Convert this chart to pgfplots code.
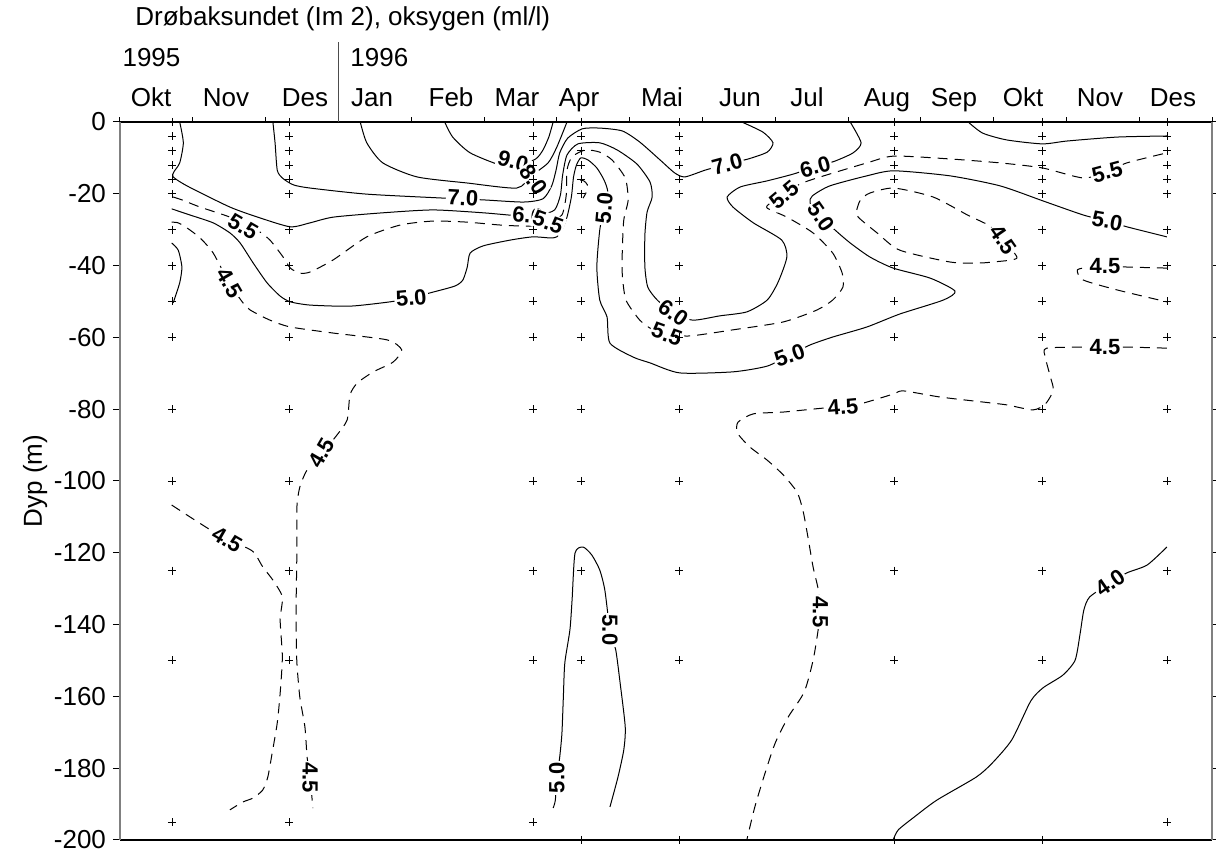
\documentclass[border=0pt]{standalone}
\usepackage{fontspec}
\setmainfont{Liberation Sans}
\usepackage{pgfplots}
\usepackage{pgfplotstable}
\pgfplotsset{compat=1.18}

\pgfplotstableread[row sep=\\]{
m d\\
0.714 0\\ 0.714 -4\\ 0.714 -8\\ 0.714 -12\\ 0.714 -16\\ 0.714 -20\\ 0.714 -30\\ 0.714 -40\\ 0.714 -50\\ 0.714 -60\\ 0.714 -80\\ 0.714 -100\\ 0.714 -125\\ 0.714 -150\\ 0.714 -195\\
2.321 0\\ 2.321 -4\\ 2.321 -8\\ 2.321 -12\\ 2.321 -16\\ 2.321 -20\\ 2.321 -30\\ 2.321 -40\\ 2.321 -50\\ 2.321 -60\\ 2.321 -80\\ 2.321 -100\\ 2.321 -125\\ 2.321 -150\\ 2.321 -195\\
5.673 0\\ 5.673 -4\\ 5.673 -8\\ 5.673 -12\\ 5.673 -16\\ 5.673 -20\\ 5.673 -30\\ 5.673 -40\\ 5.673 -50\\ 5.673 -60\\ 5.673 -80\\ 5.673 -100\\ 5.673 -125\\ 5.673 -150\\ 5.673 -195\\
6.332 0\\ 6.332 -4\\ 6.332 -8\\ 6.332 -12\\ 6.332 -16\\ 6.332 -20\\ 6.332 -30\\ 6.332 -40\\ 6.332 -50\\ 6.332 -60\\ 6.332 -80\\ 6.332 -100\\ 6.332 -125\\ 6.332 -150\\ 6.332 -200\\
7.679 0\\ 7.679 -4\\ 7.679 -8\\ 7.679 -12\\ 7.679 -16\\ 7.679 -20\\ 7.679 -30\\ 7.679 -40\\ 7.679 -50\\ 7.679 -60\\ 7.679 -80\\ 7.679 -100\\ 7.679 -125\\ 7.679 -150\\ 7.679 -200\\
10.632 0\\ 10.632 -4\\ 10.632 -8\\ 10.632 -12\\ 10.632 -16\\ 10.632 -20\\ 10.632 -30\\ 10.632 -40\\ 10.632 -50\\ 10.632 -60\\ 10.632 -80\\ 10.632 -100\\ 10.632 -125\\ 10.632 -150\\ 10.632 -200\\
12.665 0\\ 12.665 -4\\ 12.665 -8\\ 12.665 -12\\ 12.665 -16\\ 12.665 -20\\ 12.665 -30\\ 12.665 -40\\ 12.665 -50\\ 12.665 -60\\ 12.665 -80\\ 12.665 -100\\ 12.665 -125\\ 12.665 -150\\ 12.665 -200\\
14.382 0\\ 14.382 -4\\ 14.382 -8\\ 14.382 -12\\ 14.382 -16\\ 14.382 -20\\ 14.382 -30\\ 14.382 -40\\ 14.382 -50\\ 14.382 -60\\ 14.382 -80\\ 14.382 -100\\ 14.382 -125\\ 14.382 -150\\ 14.382 -195\\
}\stations

\tikzset{
  sol/.style={black, line width=0.5pt, smooth, tension=0.4, mark=none},
  das/.style={sol, dash pattern=on 5pt off 3.5pt},
  lab/.style={font=\fontsize{11}{12}\selectfont\bfseries, fill=white, inner sep=0.8pt},
  txt/.style={font=\fontsize{13}{15}\selectfont, inner sep=0pt},
  mon/.style={txt, anchor=base, yshift=7.6pt},
}

\begin{document}
\begin{tikzpicture}
\begin{axis}[
  width=546pt, height=359pt, scale only axis,
  xmin=0, xmax=15, ymin=-200, ymax=0,
  clip=false,
  separate axis lines,
  every outer x axis line/.append style={black, line width=0.7pt},
  every outer y axis line/.append style={gray, line width=1pt},
  xtick={0,1,...,15}, xticklabels={}, xtick pos=right,
  ytick={-200,-180,-160,-140,-120,-100,-80,-60,-40,-20,0},
  yticklabels={-200,-180,-160,-140,-120,-100,-80,-60,-40,-20,0},
  ytick pos=both, yticklabel pos=left,
  tick align=outside,
  major tick length=3.5pt,
  xtick style={/pgfplots/major tick length=2.3pt},
  every tick/.style={black, line width=0.5pt},
  tick label style={font=\fontsize{13}{15}\selectfont},
  ylabel={Dyp (m)},
  ylabel style={at={(axis description cs:-0.0778,0.5)}, anchor=center, font=\fontsize{13}{15}\selectfont},
]
% stations
\addplot[only marks, mark=+, mark size=2pt, mark options={line width=0.4pt}] table[x=m, y=d] {\stations};

% 9.0
\addplot[sol] coordinates {(4.46,0) (4.57,-4.2) (4.81,-8.6) (5.22,-12.0) (5.45,-12.3) (5.71,-10.3) (5.81,-7.8) (5.89,-4.2) (5.95,0)};
% 8.0
\addplot[sol] coordinates {(3.30,0) (3.39,-5.8) (3.61,-11.4) (4.08,-15.3) (4.77,-17.0) (5.45,-18.4) (5.65,-15.0) (5.88,-11.4) (6.00,-7.0) (6.14,0)};
% 7.0
\addplot[sol] coordinates {(2.10,0) (2.13,-5.8) (2.16,-13.4) (2.23,-15.6) (2.38,-17.5) (2.61,-18.4) (3.39,-20.1) (4.44,-21.2) (4.99,-21.7) (5.54,-22.3) (5.81,-21.4) (5.93,-17.8) (5.99,-13.4) (6.04,-8.6) (6.15,-4.5) (6.35,-1.9) (6.59,-1.7) (6.90,-2.5) (7.14,-5.6) (7.42,-10.6) (7.62,-14.2) (7.76,-15.3) (8.04,-13.4) (8.34,-11.7) (8.63,-10.3) (8.89,-8.4) (8.97,-5.8) (8.83,-2.8) (8.54,0)};
% 6.0
\addplot[sol] coordinates {(0.82,0) (0.87,-5.8) (0.82,-11.4) (0.74,-13.9) (0.73,-15.3) (0.92,-17.8) (1.51,-23.7) (1.92,-26.7) (2.34,-29.2) (2.61,-28.1) (2.93,-26.5) (3.61,-25.3) (4.30,-24.5) (4.99,-25.3) (5.52,-26.2) (5.77,-25.9) (5.97,-24.5) (6.05,-20.3) (6.08,-14.8) (6.14,-9.2) (6.29,-6.1) (6.59,-5.8) (6.83,-7.8) (7.10,-11.7) (7.28,-16.7) (7.31,-20.9) (7.24,-25.1) (7.21,-31.5) (7.21,-40.4) (7.25,-46.0) (7.38,-49.6) (7.60,-53.2) (7.87,-55.2) (8.24,-54.0) (8.61,-52.9) (8.89,-49.6) (9.04,-44.6) (9.16,-37.6) (9.09,-32.9) (8.70,-28.1) (8.42,-23.7) (8.34,-20.9) (8.52,-18.1) (8.89,-16.4) (9.25,-14.5) (9.55,-12.5) (9.82,-10.9) (10.07,-8.6) (10.18,-5.8) (10.03,0)};
% 5.5
\addplot[das] coordinates {(0.73,-20.9) (0.85,-21.7) (1.10,-23.7) (1.51,-26.5) (1.88,-30.1) (2.06,-32.9) (2.24,-37.6) (2.34,-40.7) (2.47,-42.1) (2.61,-41.8) (2.93,-38.4) (3.39,-32.0) (3.85,-28.7) (4.30,-27.6) (4.77,-27.9) (5.22,-28.7) (5.63,-29.0) (5.88,-27.9) (6.07,-25.9) (6.13,-20.3) (6.14,-13.4) (6.21,-9.7) (6.39,-7.8) (6.59,-8.4) (6.76,-10.6) (6.94,-15.6) (6.98,-21.7) (6.92,-27.3) (6.90,-35.7) (6.90,-42.6) (6.95,-49.6) (7.14,-55.2) (7.32,-57.9) (7.51,-59.1) (7.83,-59.6) (8.42,-57.9) (9.11,-55.7) (9.57,-52.4) (9.79,-49.6) (9.93,-46.0) (9.92,-42.1) (9.79,-36.5) (9.52,-30.9) (9.16,-26.5) (8.89,-24.0) (8.93,-22.6) (9.12,-20.3) (9.34,-17.3) (9.62,-15.3) (10.26,-11.4) (10.63,-9.5) (11.40,-10.3) (12.09,-11.4) (12.67,-12.8) (13.23,-15.6) (13.56,-13.9) (13.83,-11.4) (14.38,-8.6)};
% 5.0 long
\addplot[sol] coordinates {(0.71,-24.2) (0.96,-25.9) (1.28,-28.1) (1.51,-30.9) (1.65,-33.7) (1.83,-39.3) (2.02,-44.8) (2.20,-48.5) (2.34,-50.1) (2.61,-51.0) (3.16,-51.3) (3.71,-50.1) (4.00,-49.0) (4.26,-47.6) (4.60,-45.7) (4.71,-44.0) (4.77,-40.4) (4.81,-36.5) (4.99,-34.5) (5.36,-32.9) (5.67,-32.0) (5.91,-32.3) (6.00,-32.0) (6.07,-30.1) (6.14,-26.5) (6.20,-20.9) (6.23,-15.3) (6.27,-12.0) (6.33,-10.0) (6.43,-10.6) (6.55,-12.8) (6.65,-16.2) (6.70,-19.5) (6.65,-24.0) (6.59,-30.1) (6.55,-40.4) (6.59,-49.6) (6.69,-54.3) (6.73,-61.6) (7.05,-65.5) (7.28,-67.1) (7.69,-69.9) (8.42,-69.6) (8.89,-68.0) (9.20,-64.9) (9.48,-62.1) (9.79,-59.9) (10.26,-57.1) (10.71,-53.5) (11.31,-49.6) (11.47,-47.1) (11.13,-43.5) (10.62,-40.7) (10.30,-37.6) (10.03,-33.7) (9.85,-30.6) (9.63,-26.5) (9.48,-22.6) (9.51,-20.6) (9.75,-17.8) (10.26,-15.0) (10.63,-13.6) (11.40,-15.0) (12.09,-17.8) (12.68,-22.0) (13.23,-25.9) (13.56,-27.6) (13.83,-29.2) (14.38,-32.0)};
% small 5.5 squiggle at Apr
\addplot[das] coordinates {(6.32,-16.2) (6.37,-16.4) (6.42,-17.5) (6.40,-19.8) (6.36,-21.2)};
% 4.5 closed loop (Aug-Sep)
\addplot[das] coordinates {(10.12,-24.5) (10.17,-21.7) (10.30,-19.8) (10.63,-18.4) (11.17,-20.9) (11.64,-25.9) (11.95,-29.0) (12.13,-32.9) (12.32,-37.9) (11.99,-39.0) (11.77,-39.3) (11.40,-39.0) (10.71,-35.7) (10.40,-30.9) (10.14,-26.5) (10.12,-24.5)};
% 4.5 right <
\addplot[das] coordinates {(14.38,-40.7) (13.83,-40.4) (13.53,-40.1) (13.32,-40.4) (13.15,-41.2) (13.23,-44.0) (13.70,-46.8) (14.38,-50.1)};
% 4.5 long
\addplot[das] coordinates {(14.38,-63.0) (13.83,-62.7) (13.53,-62.7) (13.32,-62.7) (12.73,-63.0) (12.71,-65.5) (12.78,-71.0) (12.82,-74.7) (12.71,-78.6) (12.54,-80.2) (12.18,-78.8) (11.85,-78.0) (11.26,-76.6) (10.76,-74.9) (10.62,-75.8) (10.21,-78.3) (9.93,-79.4) (9.66,-79.7) (9.11,-80.8) (8.70,-81.3) (8.49,-83.6) (8.48,-86.6) (8.65,-90.5) (8.89,-94.2) (9.11,-98.3) (9.30,-103.1) (9.38,-108.1) (9.44,-114.5) (9.52,-123.9) (9.59,-130.1) (9.62,-136.5) (9.53,-149.0) (9.40,-158.7) (9.18,-165.7) (9.00,-173.0) (8.86,-181.4) (8.72,-190.8) (8.61,-200)};
% 4.0
\addplot[sol] coordinates {(10.62,-200) (10.69,-197.2) (10.91,-193.6) (11.22,-188.9) (11.76,-182.5) (11.98,-178.6) (12.25,-172.1) (12.51,-161.3) (12.68,-157.6) (12.95,-154.1) (13.12,-149.9) (13.19,-142.3) (13.24,-135.9) (13.32,-132.3) (13.60,-128.4) (13.83,-125.6) (14.11,-123.4) (14.38,-118.4)};
% 5.0 bottom n-shape
\addplot[sol] coordinates {(5.95,-191.1) (5.98,-188.9) (6.00,-182.7) (6.04,-176.9) (6.07,-170.4) (6.09,-160.2) (6.11,-150.7) (6.18,-141.5) (6.21,-133.1) (6.25,-120.1) (6.36,-118.4) (6.48,-120.6) (6.59,-124.8) (6.66,-130.4) (6.73,-141.5) (6.81,-147.1) (6.87,-156.3) (6.94,-168.5) (6.92,-174.9) (6.84,-182.5) (6.73,-190.8)};
% 4.5 left upper
\addplot[das] coordinates {(0.71,-27.9) (0.80,-28.1) (0.92,-29.5) (1.10,-32.3) (1.28,-36.5) (1.50,-44.8) (1.69,-50.4) (1.79,-52.4) (2.06,-55.2) (2.34,-57.1) (2.93,-58.8) (3.67,-60.7) (3.87,-63.5) (3.75,-66.9) (3.48,-69.6) (3.26,-72.7) (3.16,-76.0) (3.12,-83.0) (2.98,-87.2) (2.78,-92.2) (2.57,-96.9) (2.47,-101.7) (2.43,-107.2) (2.43,-119.2) (2.42,-133.1) (2.42,-142.3) (2.43,-150.7) (2.47,-160.2) (2.54,-168.5) (2.57,-176.9) (2.61,-182.7) (2.64,-188.9) (2.65,-191.1)};
% 4.5 left lower
\addplot[das] coordinates {(0.71,-106.7) (0.96,-110.0) (1.20,-113.1) (1.47,-116.4) (1.75,-118.7) (1.85,-120.1) (1.96,-123.9) (2.10,-127.6) (2.23,-132.3) (2.20,-138.7) (2.23,-149.0) (2.20,-159.1) (2.16,-167.4) (2.09,-175.8) (2.03,-182.5) (1.96,-186.1) (1.83,-188.3) (1.69,-189.4) (1.51,-191.6)};
% small solid bump at Okt
\addplot[sol] coordinates {(0.71,-33.7) (0.80,-35.7) (0.85,-40.4) (0.82,-44.8) (0.73,-50.4)};
% solid top right
\addplot[sol] coordinates {(11.65,0) (11.85,-3.1) (12.18,-5.0) (12.67,-6.1) (13.01,-5.3) (13.70,-4.2) (14.38,-3.9)};

% contour labels
\node[lab, rotate=-15] at (axis cs:5.40,-11.0) {9.0};
\node[lab, rotate=-55] at (axis cs:5.68,-16.0) {8.0};
\node[lab, rotate=-3] at (axis cs:4.71,-21.2) {7.0};
\node[lab, rotate=-5] at (axis cs:5.60,-26.0) {6.0};
\node[lab, rotate=-20] at (axis cs:5.88,-27.9) {5.5};
\node[lab, rotate=-30] at (axis cs:1.69,-29.2) {5.5};
\node[lab, rotate=5] at (axis cs:4.00,-49.0) {5.0};
\node[lab, rotate=-60] at (axis cs:1.50,-44.8) {4.5};
\node[lab, rotate=60] at (axis cs:2.77,-92.2) {4.5};
\node[lab, rotate=-30] at (axis cs:1.47,-116.4) {4.5};
\node[lab, rotate=-90] at (axis cs:2.61,-182.7) {4.5};
\node[lab, rotate=85] at (axis cs:6.65,-24.0) {5.0};
\node[lab, rotate=-35] at (axis cs:7.60,-53.2) {6.0};
\node[lab, rotate=-20] at (axis cs:7.51,-59.1) {5.5};
\node[lab, rotate=20] at (axis cs:9.20,-64.9) {5.0};
\node[lab, rotate=15] at (axis cs:8.34,-11.7) {7.0};
\node[lab, rotate=15] at (axis cs:9.55,-12.5) {6.0};
\node[lab, rotate=40] at (axis cs:9.12,-20.3) {5.5};
\node[lab, rotate=-55] at (axis cs:9.63,-26.5) {5.0};
\node[lab, rotate=-55] at (axis cs:12.13,-32.9) {4.5};
\node[lab, rotate=15] at (axis cs:13.56,-13.9) {5.5};
\node[lab, rotate=-10] at (axis cs:13.56,-27.6) {5.0};
\node[lab] at (axis cs:13.53,-40.1) {4.5};
\node[lab] at (axis cs:13.53,-62.7) {4.5};
\node[lab, rotate=5] at (axis cs:9.93,-79.4) {4.5};
\node[lab, rotate=-90] at (axis cs:9.62,-136.5) {4.5};
\node[lab, rotate=35] at (axis cs:13.60,-128.4) {4.0};
\node[lab, rotate=90] at (axis cs:6.00,-182.7) {5.0};
\node[lab, rotate=-90] at (axis cs:6.73,-141.5) {5.0};

% month labels
\node[mon] at (axis cs:0.426,0) {Okt};
\node[mon] at (axis cs:1.456,0) {Nov};
\node[mon] at (axis cs:2.541,0) {Des};
\node[mon] at (axis cs:3.462,0) {Jan};
\node[mon] at (axis cs:4.547,0) {Feb};
\node[mon] at (axis cs:5.453,0) {Mar};
\node[mon] at (axis cs:6.305,0) {Apr};
\node[mon] at (axis cs:7.445,0) {Mai};
\node[mon] at (axis cs:8.516,0) {Jun};
\node[mon] at (axis cs:9.437,0) {Jul};
\node[mon] at (axis cs:10.536,0) {Aug};
\node[mon] at (axis cs:11.456,0) {Sep};
\node[mon] at (axis cs:12.404,0) {Okt};
\node[mon] at (axis cs:13.462,0) {Nov};
\node[mon] at (axis cs:14.464,0) {Des};
% years and title
\node[txt, anchor=base west, yshift=27.8pt] at (axis cs:0.03,0) {1995};
\node[txt, anchor=base west, yshift=27.8pt] at (axis cs:3.16,0) {1996};
\node[txt, anchor=base west, yshift=48pt] at (axis cs:0.206,0) {Drøbaksundet (Im 2), oksygen (ml/l)};
\draw[gray!60!black, line width=0.9pt] (axis cs:3,0) -- ([yshift=40pt]axis cs:3,0);
\end{axis}
\pgfresetboundingbox
\path[use as bounding box] ([shift={(-60pt,-7pt)}]current axis.south west) rectangle ([shift={(2pt,61pt)}]current axis.north east);
\end{tikzpicture}
\end{document}
